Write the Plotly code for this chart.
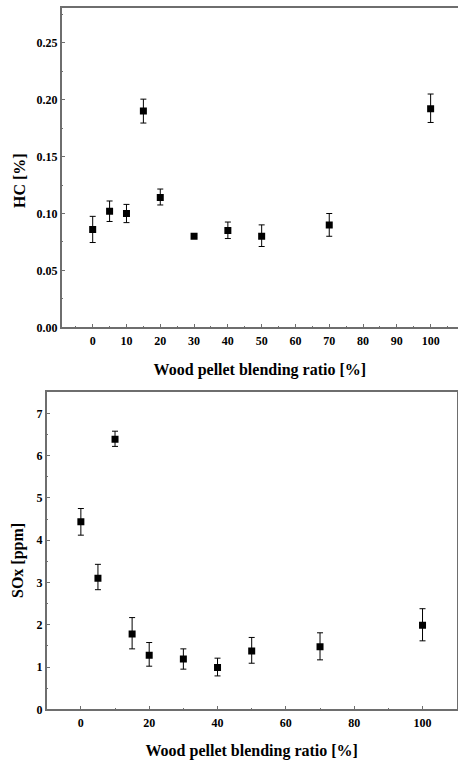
import plotly.graph_objects as go

# ---- data ----
blend_hc = [0, 5, 10, 15, 20, 30, 40, 50, 70, 100]
hc_vals = [0.086, 0.102, 0.100, 0.190, 0.114, 0.080, 0.085, 0.080, 0.090, 0.192]
hc_err_plus = [0.0115, 0.009, 0.008, 0.0105, 0.0075, 0.001, 0.0075, 0.010, 0.010, 0.013]
hc_err_minus = [0.0115, 0.009, 0.008, 0.0105, 0.0065, 0.001, 0.0070, 0.009, 0.010, 0.012]

blend_sox = [0, 5, 10, 15, 20, 30, 40, 50, 70, 100]
sox_vals = [4.44, 3.10, 6.39, 1.78, 1.28, 1.19, 0.99, 1.38, 1.48, 1.99]
sox_err_plus = [0.31, 0.33, 0.19, 0.39, 0.30, 0.24, 0.22, 0.32, 0.33, 0.39]
sox_err_minus = [0.32, 0.27, 0.17, 0.35, 0.26, 0.24, 0.20, 0.29, 0.31, 0.37]

hc_xticks = [0, 10, 20, 30, 40, 50, 60, 70, 80, 90, 100]
hc_yticks = [0.00, 0.05, 0.10, 0.15, 0.20, 0.25]
sox_xticks = [0, 20, 40, 60, 80, 100]
sox_yticks = [0, 1, 2, 3, 4, 5, 6, 7]

x_title = "Wood pellet blending ratio [%]"
hc_title = "HC [%]"
sox_title = "SOx [ppm]"

W, H = 458, 760
serif = "'Liberation Serif', 'Times New Roman', Times, serif"
tickfont = dict(family=serif, size=12, color="black", weight="bold")
titlefont = dict(family=serif, size=16, color="black", weight="bold")
axcol = "#6e6e6e"

fig = go.Figure()
fig.add_trace(go.Scatter(
    x=blend_hc, y=hc_vals, mode="markers", xaxis="x", yaxis="y",
    marker=dict(symbol="square", size=7, color="black"),
    error_y=dict(type="data", symmetric=False, array=hc_err_plus,
                 arrayminus=hc_err_minus, color="black", thickness=1, width=3),
    showlegend=False))
fig.add_trace(go.Scatter(
    x=blend_sox, y=sox_vals, mode="markers", xaxis="x2", yaxis="y2",
    marker=dict(symbol="square", size=7, color="black"),
    error_y=dict(type="data", symmetric=False, array=sox_err_plus,
                 arrayminus=sox_err_minus, color="black", thickness=1, width=3),
    showlegend=False))

common = dict(showgrid=False, zeroline=False, showline=True, linecolor=axcol,
              linewidth=1.5, ticks="inside", ticklen=4, tickwidth=1,
              tickcolor=axcol, tickfont=tickfont, automargin=False)

fig.update_layout(
    width=W, height=H, margin=dict(l=0, r=0, t=0, b=0),
    paper_bgcolor="white", plot_bgcolor="white",
    font=dict(family=serif),
    xaxis=dict(domain=[61.7 / W, 1.0], range=[-9.17, 108.1], anchor="y",
               tickvals=hc_xticks, mirror=True, ticklabelstandoff=2,
               minor=dict(dtick=5, tick0=0, ticks="inside", ticklen=2, tickcolor=axcol),
               title=dict(text=x_title, font=titlefont, standoff=16),
               **common),
    yaxis=dict(domain=[1 - 327.3 / H, 1 - 8 / H], range=[0, 0.2806], anchor="x",
               tickvals=hc_yticks, tickformat=".2f",
               minor=dict(dtick=0.025, tick0=0, ticks="inside", ticklen=2, tickcolor=axcol),
               **common),
    xaxis2=dict(domain=[46.7 / W, 456.7 / W], range=[-10, 110], anchor="y2",
                tickvals=sox_xticks, mirror=True, ticklabelstandoff=2,
                minor=dict(dtick=10, tick0=0, ticks="inside", ticklen=2, tickcolor=axcol),
                title=dict(text=x_title, font=titlefont, standoff=16),
                **common),
    yaxis2=dict(domain=[1 - 709.3 / H, 1 - 392.3 / H], range=[0, 7.5], anchor="x2",
                tickvals=sox_yticks, mirror=True,
                minor=dict(dtick=0.5, tick0=0, ticks="inside", ticklen=2, tickcolor=axcol),
                **common),
    annotations=[
        dict(text=hc_title, xref="paper", yref="paper", x=19 / W, y=1 - 181 / H,
             textangle=-90, showarrow=False, font=titlefont,
             xanchor="center", yanchor="middle"),
        dict(text=sox_title, xref="paper", yref="paper", x=18 / W, y=1 - 561 / H,
             textangle=-90, showarrow=False, font=titlefont,
             xanchor="center", yanchor="middle"),
    ],
)

fig.write_html("out.html")
